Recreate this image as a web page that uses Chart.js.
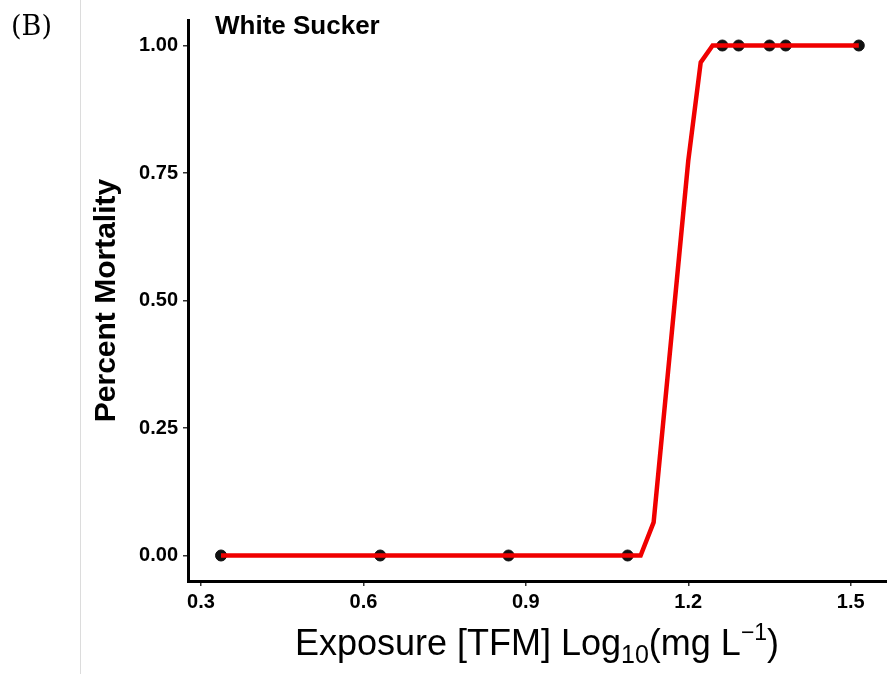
<!DOCTYPE html>
<html>
<head>
<meta charset="utf-8">
<script src="https://cdn.jsdelivr.net/npm/chart.js@4/dist/chart.umd.min.js"></script>
<style>
  html, body { margin: 0; padding: 0; background: #fff; }
  #wrap { position: relative; width: 887px; height: 674px; overflow: hidden; }
  #c { position: absolute; left: 0; top: 0; }
  #sep { position: absolute; left: 80px; top: 0; width: 1px; height: 674px; background: #dcdcdc; }
  #panel { position: absolute; left: 11px; top: 10px; font-family: "DejaVu Serif", serif; font-size: 27px; color: #000; }
  #xtitle { position: absolute; left: 0; width: 1074px; top: 622px; text-align: center;
            font-family: "Liberation Sans", Arial, sans-serif; font-size: 36px; color: #000; white-space: nowrap; }
  #xtitle sub { font-size: 25px; vertical-align: -8px; line-height: 0; }
  #xtitle sup { font-size: 23px; vertical-align: 15px; line-height: 0; }
</style>
</head>
<body>
<div id="wrap">
  <canvas id="c" width="894" height="674"></canvas>
  <div id="sep"></div>
  <div id="panel">(B)</div>
  <div id="xtitle">Exposure [TFM] Log<sub>10</sub>(mg L<sup>&minus;1</sup>)</div>
</div>
<script>
// Observed data points (log10 exposure, proportion mortality)
const obsX = [0.337, 0.631, 0.868, 1.088, 1.263, 1.293, 1.350, 1.380, 1.515];
const obsY = [0, 0, 0, 0, 1, 1, 1, 1, 1];

// Fitted curve
const fitX = [0.337, 1.112, 1.136, 1.200, 1.223, 1.245, 1.515];
const fitY = [0, 0, 0.065, 0.774, 0.967, 1.0, 1.0];

// Tick labels
const xTicks = [0.3, 0.6, 0.9, 1.2, 1.5];
const yTicks = [0.00, 0.25, 0.50, 0.75, 1.00];

const speciesLabel = "White Sucker";
const yTitle = "Percent Mortality";

const tickFont = { family: "'Liberation Sans', Arial, sans-serif", size: 20, weight: 'bold' };

const labelPlugin = {
  id: 'speciesLabel',
  afterDraw(chart) {
    const ctx = chart.ctx;
    ctx.save();
    ctx.font = "bold 26px 'Liberation Sans', Arial, sans-serif";
    ctx.fillStyle = '#000';
    ctx.textAlign = 'left';
    ctx.textBaseline = 'middle';
    ctx.fillText(speciesLabel, 215, 27);
    ctx.restore();
  }
};

new Chart(document.getElementById('c'), {
  type: 'scatter',
  data: {
    datasets: [
      {
        label: 'Fit',
        type: 'line',
        data: fitX.map((x, i) => ({ x: x, y: fitY[i] })),
        borderColor: '#f00000',
        borderWidth: 4.5,
        pointRadius: 0,
        fill: false,
        tension: 0,
        order: 0
      },
      {
        label: 'Observed',
        data: obsX.map((x, i) => ({ x: x, y: obsY[i] })),
        backgroundColor: '#111',
        borderColor: '#111',
        pointRadius: 5.5,
        pointHoverRadius: 5.5,
        order: 1
      }
    ]
  },
  options: {
    responsive: false,
    animation: false,
    layout: { padding: { top: 20, right: 0, left: 0, bottom: 0 } },
    plugins: { legend: { display: false }, tooltip: { enabled: false } },
    scales: {
      x: {
        type: 'linear',
        min: 0.276,
        max: 1.568,
        afterBuildTicks(scale) { scale.ticks = xTicks.map(v => ({ value: v })); },
        afterFit(scale) { scale.height = 93; },
        ticks: {
          callback: v => Number(v).toFixed(1),
          font: tickFont,
          color: '#000',
          padding: 4,
          maxRotation: 0,
          autoSkip: false
        },
        grid: { display: true, drawOnChartArea: false, drawTicks: true, tickLength: 5, color: '#333', lineWidth: 1.5 },
        border: { display: true, color: '#000', width: 3 }
      },
      y: {
        type: 'linear',
        min: -0.05,
        max: 1.05,
        afterBuildTicks(scale) { scale.ticks = yTicks.map(v => ({ value: v })); },
        afterFit(scale) { scale.width = 188; },
        ticks: {
          callback: v => Number(v).toFixed(2),
          font: tickFont,
          color: '#000',
          padding: 5,
          autoSkip: false
        },
        title: {
          display: true,
          text: yTitle,
          color: '#000',
          font: { family: "'Liberation Sans', Arial, sans-serif", size: 30, weight: 'bold' },
          padding: { top: 89, bottom: 0 }
        },
        grid: { display: true, drawOnChartArea: false, drawTicks: true, tickLength: 5, color: '#333', lineWidth: 1.5 },
        border: { display: true, color: '#000', width: 3 }
      }
    }
  },
  plugins: [labelPlugin]
});
</script>
</body>
</html>
